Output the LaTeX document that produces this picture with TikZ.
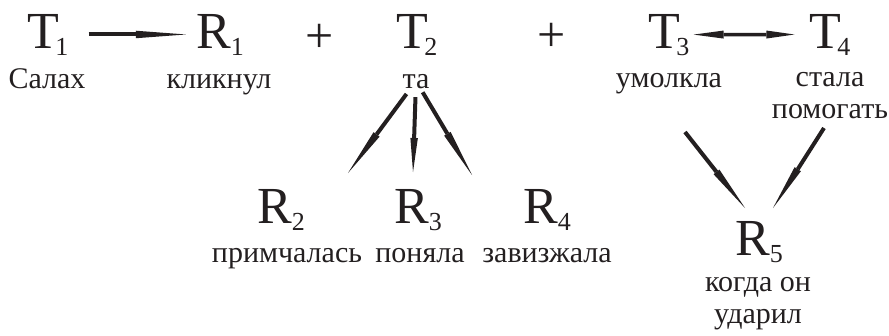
\documentclass[tikz,border=0pt]{standalone}
\usepackage{fontspec}
\setmainfont{Liberation Serif}
\usetikzlibrary{arrows.meta}

\definecolor{ink}{RGB}{35,31,32}

% Letra grande con subindice
\newcommand{\ent}[3]{{\fontsize{52}{52}\selectfont #1}\kern#2\raisebox{-7pt}{\fontsize{26}{26}\selectfont #3}}

\tikzset{
  sym/.style={inner sep=0pt, anchor=base, text=ink},
  lbl/.style={inner sep=0pt, anchor=base, text=ink,
    font=\fontsize{30}{32}\selectfont, align=center},
  arr/.style={-{Triangle[length=#1, width=7.5pt, line width=0pt]},
    line width=4pt, draw=ink},
  darr/.style={{Triangle[length=30pt, width=8pt, line width=0pt]}-{Triangle[length=28pt, width=8pt, line width=0pt]},
    line width=3.5pt, draw=ink}
}

\begin{document}
\begin{tikzpicture}[x=1pt,y=-1pt]

  \useasboundingbox (0,0) rectangle (889,335);

  % Fila superior
  \node[sym] (t1) at (48,48) {\ent{T}{-4pt}{1}};
  \node[sym] (r1) at (220,48) {\ent{R}{0pt}{1}};
  \node[sym] (p1) at (320,52) {\fontsize{50}{50}\selectfont +};
  \node[sym] (t2) at (417,48) {\ent{T}{-4pt}{2}};
  \node[sym] (p2) at (552,51) {\fontsize{50}{50}\selectfont +};
  \node[sym] (t3) at (669,48) {\ent{T}{-4pt}{3}};
  \node[sym] (t4) at (830,48) {\ent{T}{-4pt}{4}};

  % Palabras de la fila superior
  \node[lbl] (w1) at (47,88) {Салах};
  \node[lbl] (w2) at (219,88) {кликнул};
  \node[lbl] (w3) at (416,88) {та};
  \node[lbl] (w4) at (669,87) {умолкла};
  \node[lbl] (w5) at (830,118) {стала\\помогать};

  % Fila inferior
  \node[sym] (r2) at (281,223) {\ent{R}{0pt}{2}};
  \node[sym] (r3) at (418,223) {\ent{R}{0pt}{3}};
  \node[sym] (r4) at (547,223) {\ent{R}{0pt}{4}};
  \node[sym] (r5) at (759,255) {\ent{R}{0pt}{5}};

  \node[lbl] (w6) at (287,262) {примчалась};
  \node[lbl] (w7) at (420,262) {поняла};
  \node[lbl] (w8) at (547,262) {завизжала};
  \node[lbl] (w9) at (758,323) {когда он\\ударил};

  % Extremos libres de las flechas
  \coordinate (e2) at (348,173);
  \coordinate (e3) at (413,172);
  \coordinate (e4) at (472,175);
  \coordinate (s5a) at (685,132);
  \coordinate (e5a) at (745,208);
  \coordinate (s5b) at (824,128);
  \coordinate (e5b) at (773,208);

  % Flechas
  \draw[arr=50pt, shorten <=20pt, shorten >=10pt] (t1) -- (r1);
  \draw[darr, shorten <=4pt, shorten >=15pt] (t3) -- (t4);

  \draw[arr=48pt, shorten <=16pt] (w3.center) -- (e2);
  \draw[arr=34pt, shorten <=16pt] (w3.center) -- (e3);
  \draw[arr=48pt, shorten <=13pt] (w3.center) -- (e4);

  \draw[arr=46pt] (s5a) -- (e5a);
  \draw[arr=46pt] (s5b) -- (e5b);

\end{tikzpicture}
\end{document}
